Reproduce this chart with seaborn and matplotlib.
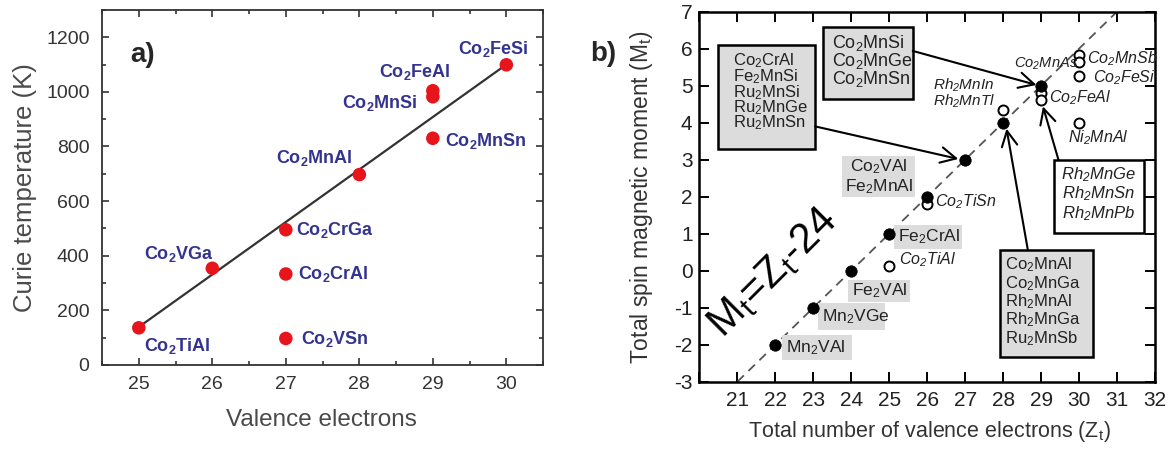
import re

import matplotlib
matplotlib.use("Agg")
import matplotlib.pyplot as plt
from matplotlib.patches import Rectangle
from matplotlib.ticker import MultipleLocator
from matplotlib.transforms import offset_copy
import pandas as pd
import seaborn as sns

# panel a) Curie temperature vs valence electrons
tc_electrons = [25, 26, 27, 27, 27, 28, 29, 29, 29, 30]
tc_kelvin = [136, 354, 495, 333, 97, 697, 1004, 982, 830, 1099]
tc_names = ["Co2TiAl", "Co2VGa", "Co2CrGa", "Co2CrAl", "Co2VSn",
            "Co2MnAl", "Co2FeAl", "Co2MnSi", "Co2MnSn", "Co2FeSi"]
fit_electrons = [25, 30]
fit_kelvin = [139, 1100]

# panel b) total spin moment vs Zt (Slater-Pauling)
filled_z = [22, 23, 24, 25, 26, 27, 28, 29]
filled_m = [-2, -1, 0, 1, 2, 3, 4, 5]
open_z = [25, 26, 28, 29, 29, 30, 30, 30, 30]
open_m = [0.14, 1.80, 4.33, 4.80, 4.60, 5.82, 5.64, 5.25, 3.99]
sp_z = [21, 31]
sp_m = [-3, 7]

sns.set_theme(style="ticks")
plt.rcParams["font.family"] = ["Liberation Sans", "DejaVu Sans"]
plt.rcParams["mathtext.fontset"] = "custom"
plt.rcParams["mathtext.rm"] = "Liberation Sans"
plt.rcParams["mathtext.it"] = "Liberation Sans:italic"
plt.rcParams["mathtext.bf"] = "Liberation Sans:bold"
plt.rcParams["mathtext.default"] = "regular"
plt.rcParams["axes.unicode_minus"] = False


def chem(name):
    return re.sub(r"(\d)", r"$_\\mathregular{\1}$", name)


def put(ax, x, y, s, size, **kw):
    # y is the middle of the capitals, so shift the baseline down by half a cap height
    tr = offset_copy(ax.transData, fig=ax.figure, y=-0.358 * size, units="points")
    ax.text(x, y, chem(s), fontsize=size, va="baseline", transform=tr, **kw)


fig = plt.figure(figsize=(11.73, 4.5), dpi=100)
ax1 = fig.add_axes([0.087, 0.189, 0.376, 0.789])
ax2 = fig.add_axes([0.5963, 0.1518, 0.3883, 0.8222])

# ---------------- panel a
df_a = pd.DataFrame({"ve": tc_electrons, "tc": tc_kelvin, "name": tc_names})
sns.lineplot(x=fit_electrons, y=fit_kelvin, ax=ax1, color="#333333", lw=1.6)
sns.scatterplot(data=df_a, x="ve", y="tc", ax=ax1, s=95, color="#e8141c",
                edgecolor="none", zorder=3)

ax1.set_xlim(24.5, 30.5)
ax1.set_ylim(0, 1300)
ax1.xaxis.set_major_locator(MultipleLocator(1))
ax1.xaxis.set_minor_locator(MultipleLocator(0.5))
ax1.yaxis.set_major_locator(MultipleLocator(200))
ax1.yaxis.set_minor_locator(MultipleLocator(100))
ax1.set_yticks([0, 200, 400, 600, 800, 1000, 1200])
ax1.tick_params(which="both", direction="in", top=True, right=True,
                color="#333333", width=1.2, labelcolor="#333333", labelsize=14)
ax1.tick_params(which="major", length=5)
ax1.tick_params(which="minor", length=3)
ax1.tick_params(axis="x", pad=8)
ax1.tick_params(axis="y", pad=9)
for sp in ax1.spines.values():
    sp.set_color("#333333")
    sp.set_linewidth(1.3)
ax1.set_xlabel("Valence electrons", fontsize=17.5, color="#4a4a4a")
ax1.set_ylabel("Curie temperature (K)", fontsize=18.5, color="#4a4a4a")
ax1.xaxis.set_label_coords(0.497, -0.125)
ax1.yaxis.set_label_coords(-0.148, 0.5)

blue = "#34348f"
label_a = {
    "Co2FeSi": (29.82, 1164, "center"),
    "Co2FeAl": (28.76, 1079, "center"),
    "Co2MnSi": (28.28, 964, "center"),
    "Co2MnSn": (29.17, 827, "left"),
    "Co2MnAl": (27.39, 764, "center"),
    "Co2CrGa": (27.14, 499, "left"),
    "Co2VGa": (25.55, 412, "center"),
    "Co2CrAl": (27.17, 339, "left"),
    "Co2VSn": (27.21, 99, "left"),
    "Co2TiAl": (25.07, 73, "left"),
}
for name in tc_names:
    x, y, ha = label_a[name]
    put(ax1, x, y, name, 13, ha=ha, color=blue, fontweight="bold")

fig.text(143 / 1173, 1 - 55 / 450, "a)", fontsize=20, fontweight="bold",
         ha="center", va="center")

# ---------------- panel b
sns.lineplot(x=sp_z, y=sp_m, ax=ax2, color="#555555", lw=1.3,
             linestyle=(0, (5, 3.5)), zorder=1)
sns.scatterplot(x=open_z, y=open_m, ax=ax2, s=52, color="white",
                edgecolor="black", linewidth=1.4, zorder=3)
sns.scatterplot(x=filled_z, y=filled_m, ax=ax2, s=68, color="black",
                edgecolor="black", linewidth=0.5, zorder=4)

ax2.set_xlim(20, 32)
ax2.set_ylim(-3, 7)
ax2.set_xticks(range(20, 33))
ax2.set_xticklabels([""] + [str(v) for v in range(21, 33)])
ax2.set_yticks(range(-3, 8))
ax2.tick_params(direction="in", top=True, right=True, length=7, width=1.4,
                color="black", labelcolor="#222222", labelsize=15)
ax2.tick_params(axis="x", pad=7)
ax2.tick_params(axis="y", pad=5)
for sp in ax2.spines.values():
    sp.set_color("black")
    sp.set_linewidth(1.8)
ax2.set_xlabel(r"Total number of valence electrons (Z$_\mathregular{t}$)",
               fontsize=15.5, color="#333333")
ax2.set_ylabel(r"Total spin magnetic moment (M$_\mathregular{t}$)",
               fontsize=16.5, color="#333333")
ax2.xaxis.set_label_coords(0.506, -0.100)
ax2.yaxis.set_label_coords(-0.098, 0.5)

gray = "#dcdcdc"

# framed boxes: (x0, y0, x1, y1, fill)
framed = [
    (20.50, 3.29, 23.05, 6.11, gray),
    (23.26, 4.63, 25.62, 6.59, gray),
    (29.33, 1.02, 31.71, 2.99, "white"),
    (27.92, -2.33, 30.37, 0.57, gray),
]
for x0, y0, x1, y1, fc in framed:
    ax2.add_patch(Rectangle((x0, y0), x1 - x0, y1 - y0, facecolor=fc,
                            edgecolor="black", lw=1.8, zorder=2))

# plain gray boxes behind labels
plain = [
    (23.76, 1.98, 25.68, 3.11),
    (25.12, 0.59, 26.91, 1.23),
    (23.92, -0.85, 25.54, -0.24),
    (23.13, -1.61, 24.89, -0.87),
    (22.18, -2.42, 24.01, -1.75),
]
for x0, y0, x1, y1 in plain:
    ax2.add_patch(Rectangle((x0, y0), x1 - x0, y1 - y0, facecolor=gray,
                            edgecolor="none", zorder=1.5))

box_cralb = ["Co2CrAl", "Fe2MnSi", "Ru2MnSi", "Ru2MnGe", "Ru2MnSn"]
for name, y in zip(box_cralb, [5.70, 5.28, 4.86, 4.44, 4.03]):
    put(ax2, 20.89, y, name, 12, ha="left", zorder=5, color="#222222")

box_mnsi = ["Co2MnSi", "Co2MnGe", "Co2MnSn"]
for name, y in zip(box_mnsi, [6.19, 5.71, 5.22]):
    put(ax2, 23.49, y, name, 13, ha="left", zorder=5, color="#222222")

box_rh = ["Rh2MnGe", "Rh2MnSn", "Rh2MnPb"]
for name, y in zip(box_rh, [2.63, 2.12, 1.58]):
    put(ax2, 30.52, y, name, 12, ha="center", style="italic", zorder=5,
        color="#222222")

box_mnal = ["Co2MnAl", "Co2MnGa", "Rh2MnAl", "Rh2MnGa", "Ru2MnSb"]
for name, y in zip(box_mnal, [0.19, -0.31, -0.80, -1.30, -1.79]):
    put(ax2, 28.06, y, name, 12, ha="left", zorder=5, color="#222222")

put(ax2, 24.72, 2.86, "Co2VAl", 12.5, ha="center", zorder=5, color="#222222")
put(ax2, 24.72, 2.32, "Fe2MnAl", 12.5, ha="center", zorder=5, color="#222222")
put(ax2, 25.22, 0.95, "Fe2CrAl", 12.5, ha="left", zorder=5, color="#222222")
put(ax2, 24.74, -0.50, "Fe2VAl", 12.5, ha="center", zorder=5, color="#222222")
put(ax2, 23.22, -1.21, "Mn2VGe", 12.5, ha="left", zorder=5, color="#222222")
put(ax2, 22.29, -2.03, "Mn2VAl", 12.5, ha="left", zorder=5, color="#222222")

italic_labels = [
    ("Rh2MnIn", 26.97, 5.03, "center", 11),
    ("Rh2MnTl", 26.97, 4.61, "center", 11),
    ("Co2MnAs", 29.12, 5.62, "center", 10.5),
    ("Co2MnSb", 30.22, 5.75, "left", 11.5),
    ("Co2FeSi", 30.36, 5.25, "left", 11.5),
    ("Co2FeAl", 29.22, 4.71, "left", 11.5),
    ("Ni2MnAl", 30.52, 3.62, "center", 11.5),
    ("Co2TiSn", 26.20, 1.89, "left", 11.5),
    ("Co2TiAl", 25.25, 0.32, "left", 11.5),
]
for name, x, y, ha, size in italic_labels:
    put(ax2, x, y, name, size, ha=ha, style="italic", zorder=5, color="#222222")

arrows = [
    ((25.62, 5.94), (28.88, 5.02)),
    ((23.05, 3.90), (26.82, 3.02)),
    ((29.46, 2.99), (29.05, 4.44)),
    ((28.65, 0.57), (28.09, 3.84)),
]
for start, end in arrows:
    ax2.annotate("", xy=end, xytext=start, zorder=6,
                 arrowprops=dict(arrowstyle="->,head_length=0.55,head_width=0.28",
                                 lw=1.5, color="black", mutation_scale=20,
                                 shrinkA=0, shrinkB=0))

ax2.text(21.94, -0.06, r"M$_\mathregular{t}$=Z$_\mathregular{t}$-24",
         fontsize=30, rotation=45, rotation_mode="anchor", ha="center",
         va="center", color="black", zorder=5)

fig.text(603 / 1173, 1 - 54 / 450, "b)", fontsize=20, fontweight="bold",
         ha="center", va="center")

fig.savefig("out.png", dpi=100)
